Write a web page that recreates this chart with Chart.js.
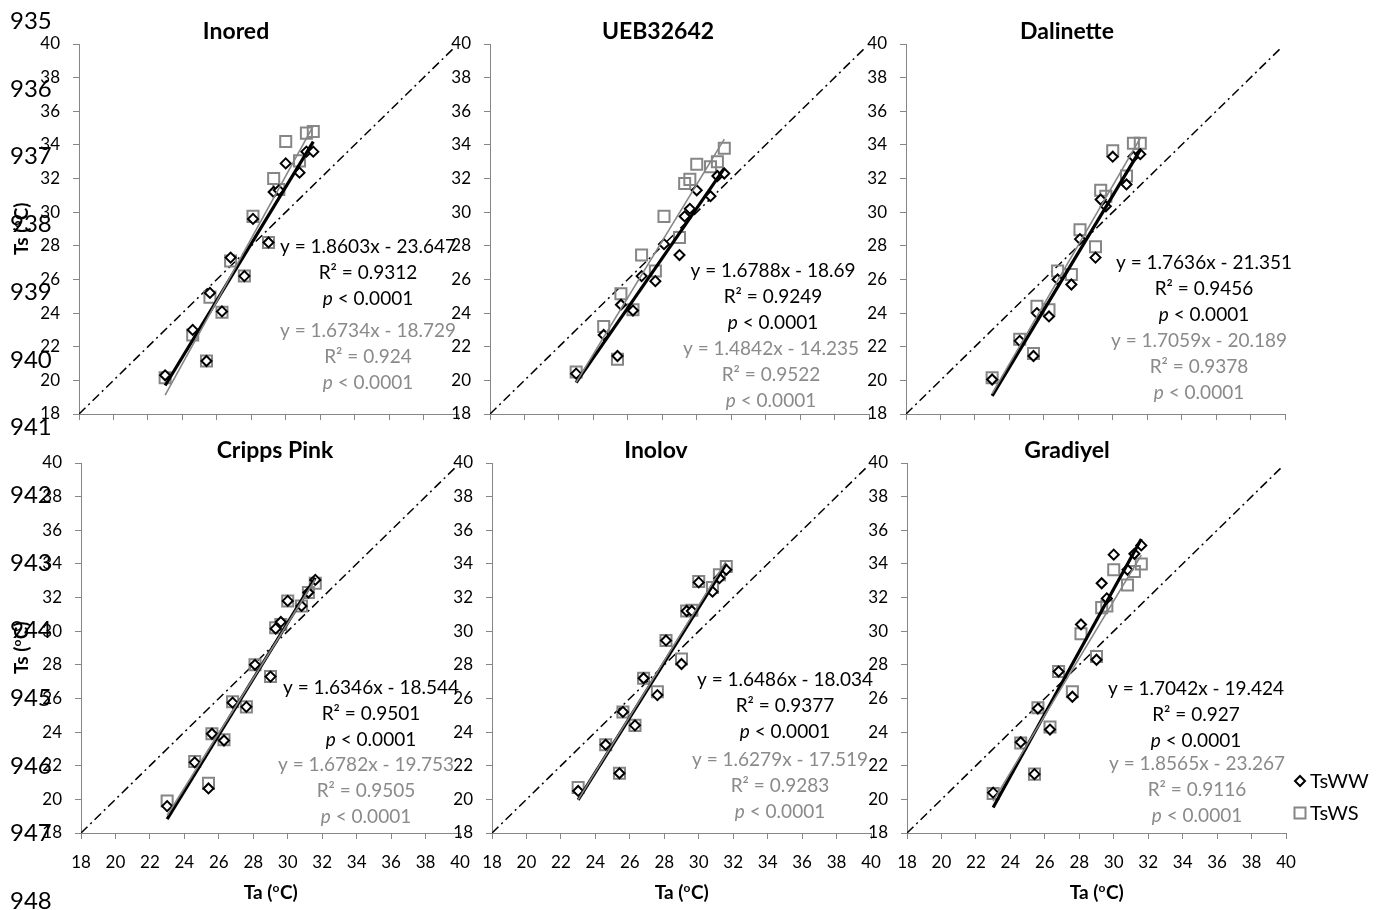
<!DOCTYPE html>
<html>
<head>
<meta charset="utf-8">
<script src="https://cdn.jsdelivr.net/npm/chart.js@4.4.0/dist/chart.umd.min.js"></script>
<style>
    body { margin: 0; background: #fff; width: 1386px; height: 910px; overflow: hidden; position: relative; font-family: Lato, sans-serif; }
    canvas { position: absolute; z-index: 1; }
    .ln { position: absolute; left: 10px; font-size: 24px; line-height: 24px; color: #000; z-index: 5; }
</style>
</head>
<body>
<script>
// Air temperature (x), shared by every panel
const ta = [23.0, 24.6, 25.4, 25.6, 26.3, 26.8, 27.6, 28.1, 29.0, 29.3, 29.6, 30.0, 30.8, 31.2, 31.6];

// Surface temperature, well watered (WW) and water stressed (WS)
const wwInored = [20.3, 23.0, 21.15, 25.2, 24.1, 27.3, 26.2, 29.6, 28.2, 31.2, 31.3, 32.9, 32.35, 33.6, 33.6];
const wsInored = [20.15, 22.7, 21.15, 24.95, 24.05, 27.1, 26.2, 29.75, 28.2, 32.0, 31.35, 34.2, 33.05, 34.7, 34.8];
const wwUEB = [20.4, 22.7, 21.45, 24.5, 24.15, 26.2, 25.9, 28.1, 27.45, 29.75, 30.2, 31.3, 30.95, 32.15, 32.3];
const wsUEB = [20.5, 23.2, 21.25, 25.15, 24.2, 27.45, 26.5, 29.75, 28.5, 31.7, 31.95, 32.85, 32.7, 33.0, 33.8];
const wwDalinette = [20.05, 22.35, 21.45, 24.0, 23.8, 26.0, 25.7, 28.4, 27.3, 30.75, 30.35, 33.3, 31.65, 33.3, 33.45];
const wsDalinette = [20.15, 22.45, 21.6, 24.4, 24.2, 26.5, 26.3, 28.95, 27.95, 31.3, 30.95, 33.65, 32.15, 34.1, 34.1];
const wwCripps = [19.6, 22.2, 20.65, 23.9, 23.5, 25.75, 25.5, 28.0, 27.3, 30.15, 30.55, 31.8, 31.5, 32.3, 33.05];
const wsCripps = [19.9, 22.25, 20.95, 23.9, 23.55, 25.8, 25.5, 28.0, 27.3, 30.2, 30.4, 31.8, 31.5, 32.3, 32.85];
const wwInolov = [20.5, 23.25, 21.55, 25.2, 24.4, 27.2, 26.2, 29.45, 28.05, 31.2, 31.2, 32.9, 32.35, 33.15, 33.65];
const wsInolov = [20.7, 23.25, 21.55, 25.2, 24.4, 27.2, 26.4, 29.45, 28.35, 31.2, 31.25, 32.95, 32.6, 33.35, 33.85];
const wwGradiyel = [20.4, 23.4, 21.5, 25.4, 24.15, 27.6, 26.1, 30.4, 28.3, 32.85, 31.95, 34.55, 33.65, 34.6, 35.1];
const wsGradiyel = [20.35, 23.35, 21.5, 25.45, 24.3, 27.6, 26.4, 29.85, 28.5, 31.4, 31.5, 33.65, 32.75, 33.55, 34.0];

const panelNames = ['Inored', 'UEB32642', 'Dalinette', 'Cripps Pink', 'Inolov', 'Gradiyel'];
const tsWW = [wwInored, wwUEB, wwDalinette, wwCripps, wwInolov, wwGradiyel];
const tsWS = [wsInored, wsUEB, wsDalinette, wsCripps, wsInolov, wsGradiyel];

// Trendline labels as printed
const eqWW = ['y = 1.8603x - 23.647', 'y = 1.6788x - 18.69', 'y = 1.7636x - 21.351', 'y = 1.6346x - 18.544', 'y = 1.6486x - 18.034', 'y = 1.7042x - 19.424'];
const r2WW = ['0.9312', '0.9249', '0.9456', '0.9501', '0.9377', '0.927'];
const eqWS = ['y = 1.6734x - 18.729', 'y = 1.4842x - 14.235', 'y = 1.7059x - 20.189', 'y = 1.6782x - 19.753', 'y = 1.6279x - 17.519', 'y = 1.8565x - 23.267'];
const r2WS = ['0.924', '0.9522', '0.9378', '0.9505', '0.9283', '0.9116'];
const pText = ' < 0.0001';

const tickValues = [18, 20, 22, 24, 26, 28, 30, 32, 34, 36, 38, 40];
const refLine = [18, 39.7];
const seriesNames = ['TsWW', 'TsWS'];

// Layout of each panel (page pixels)
const plotW = 379;
const plotH = 370;
const panels = [
    { left: 79, top: 44, cvLeft: 0, title: [236, 32], ww: [368, 247], ws: [368, 331] },
    { left: 490, top: 44, cvLeft: 430, title: [658, 32], ww: [773, 271], ws: [771, 349] },
    { left: 906, top: 44, cvLeft: 846, title: [1067, 32], ww: [1204, 263], ws: [1199, 341] },
    { left: 81, top: 463, cvLeft: 0, title: [275, 451], ww: [371, 688], ws: [366, 765] },
    { left: 492, top: 463, cvLeft: 432, title: [656, 451], ww: [785, 680], ws: [780, 760] },
    { left: 907, top: 463, cvLeft: 847, title: [1067, 451], ww: [1196, 689], ws: [1197, 764] }
];

const gray = '#868686';
const grayText = '#8a8a8a';

// Least squares fit
function fit(xs, ys) {
    const n = xs.length;
    let sx = 0, sy = 0, sxx = 0, sxy = 0;
    for (let i = 0; i < n; i++) {
        sx += xs[i]; sy += ys[i];
        sxx += xs[i] * xs[i]; sxy += xs[i] * ys[i];
    }
    const m = (n * sxy - sx * sy) / (n * sxx - sx * sx);
    return { m: m, b: (sy - m * sx) / n };
}

function trend(xs, ys) {
    const f = fit(xs, ys);
    const x0 = Math.min(...xs), x1 = Math.max(...xs);
    return [{ x: x0, y: f.m * x0 + f.b }, { x: x1, y: f.m * x1 + f.b }];
}

function drawEquation(ctx, cx, y, color, eq, r2) {
    ctx.fillStyle = color;
    ctx.textAlign = 'center';
    ctx.font = '19px Lato';
    ctx.fillText(eq, cx, y);
    ctx.fillText('R² = ' + r2, cx, y + 26);
    ctx.font = 'italic 19px Lato';
    const wp = ctx.measureText('p').width;
    ctx.font = '19px Lato';
    const wr = ctx.measureText(pText).width;
    const x0 = cx - (wp + wr) / 2;
    ctx.textAlign = 'left';
    ctx.font = 'italic 19px Lato';
    ctx.fillText('p', x0, y + 52);
    ctx.font = '19px Lato';
    ctx.fillText(pText, x0 + wp, y + 52);
}

// "Ta (oC)" with a raised small o
function drawUnitTitle(ctx, name, cx, cy) {
    ctx.fillStyle = '#000';
    ctx.textAlign = 'left';
    ctx.font = 'bold 19px Lato';
    const a = name + ' (';
    const wa = ctx.measureText(a).width;
    const wc = ctx.measureText('C)').width;
    ctx.font = 'bold 12px Lato';
    const wo = ctx.measureText('o').width;
    let x = cx - (wa + wo + wc) / 2;
    ctx.font = 'bold 19px Lato';
    ctx.fillText(a, x, cy);
    ctx.font = 'bold 12px Lato';
    ctx.fillText('o', x + wa, cy - 5);
    ctx.font = 'bold 19px Lato';
    ctx.fillText('C)', x + wa + wo + 0.5, cy);
}

function drawLegend(ctx) {
    ctx.lineWidth = 2;
    ctx.strokeStyle = '#000';
    ctx.fillStyle = '#fff';
    ctx.beginPath();
    ctx.moveTo(1300, 776); ctx.lineTo(1305, 781); ctx.lineTo(1300, 786); ctx.lineTo(1295, 781); ctx.closePath();
    ctx.fill(); ctx.stroke();
    ctx.strokeStyle = gray;
    ctx.strokeRect(1294.5, 807.5, 11, 11);
    ctx.fillStyle = '#000';
    ctx.textAlign = 'left';
    ctx.font = '20px Lato';
    ctx.fillText(seriesNames[0], 1310, 782);
    ctx.fillText(seriesNames[1], 1310, 814);
}

function textPlugin(i, cvTop) {
    const p = panels[i];
    return {
        id: 'panelText' + i,
        afterDraw(chart) {
            const ctx = chart.ctx;
            ctx.save();
            ctx.translate(-p.cvLeft, -cvTop);
            ctx.textBaseline = 'middle';
            ctx.textAlign = 'center';
            ctx.fillStyle = '#000';
            ctx.font = 'bold 23px Lato';
            ctx.fillText(panelNames[i], p.title[0], p.title[1]);
            drawEquation(ctx, p.ww[0], p.ww[1], '#000', eqWW[i], r2WW[i]);
            drawEquation(ctx, p.ws[0], p.ws[1], grayText, eqWS[i], r2WS[i]);
            if (i >= 3) drawUnitTitle(ctx, 'Ta', p.left + plotW / 2, 893);
            if (i % 3 === 0) {
                ctx.save();
                ctx.translate(22, p.top + plotH / 2);
                ctx.rotate(-Math.PI / 2);
                drawUnitTitle(ctx, 'Ts', 0, 0);
                ctx.restore();
            }
            if (i === 5) drawLegend(ctx);
            ctx.restore();
        }
    };
}

function makePanel(i) {
    const p = panels[i];
    const bottomRow = i >= 3;
    const cvTop = p.top - 44;
    const w = (i % 3 === 2) ? 1386 - p.cvLeft : p.left - p.cvLeft + plotW + 30;
    const h = bottomRow ? 910 - cvTop : 464;
    const yW = p.left - p.cvLeft;
    const xH = 36;

    const cv = document.createElement('canvas');
    cv.width = w;
    cv.height = h;
    cv.style.left = p.cvLeft + 'px';
    cv.style.top = cvTop + 'px';
    document.body.appendChild(cv);

    const pointsWW = ta.map((x, k) => ({ x: x, y: tsWW[i][k] }));
    const pointsWS = ta.map((x, k) => ({ x: x, y: tsWS[i][k] }));

    const axis = (showLabels, fitFn) => ({
        type: 'linear',
        min: tickValues[0],
        max: tickValues[tickValues.length - 1],
        afterBuildTicks: s => { s.ticks = tickValues.map(v => ({ value: v })); },
        afterFit: fitFn,
        ticks: { display: showLabels, autoSkip: false, maxRotation: 0, padding: 13, color: '#000', font: { family: 'Lato', size: 17 } },
        grid: { drawOnChartArea: false, drawTicks: true, tickLength: 6, color: gray },
        border: { display: true, color: gray, width: 1 }
    });

    new Chart(cv, {
        type: 'scatter',
        data: {
            datasets: [
                { data: trend(ta, tsWS[i]), showLine: true, borderColor: gray, borderWidth: 1.6, pointRadius: 0 },
                { data: trend(ta, tsWW[i]), showLine: true, borderColor: '#000', borderWidth: 3.2, pointRadius: 0 },
                { data: pointsWW, pointStyle: 'rectRot', pointRadius: 5, borderColor: '#000', borderWidth: 2, backgroundColor: '#fff' },
                { data: pointsWS, pointStyle: 'rect', pointRadius: 7.8, borderColor: gray, borderWidth: 2, backgroundColor: 'rgba(255,255,255,0)' },
                { data: refLine.map(v => ({ x: v, y: v })), showLine: true, borderColor: '#000', borderWidth: 1.5, borderDash: [9, 4, 2, 4], pointRadius: 0 }
            ]
        },
        options: {
            responsive: false,
            animation: false,
            devicePixelRatio: 1,
            layout: { padding: { left: 0, top: 44, right: w - yW - plotW, bottom: h - 44 - plotH - xH } },
            plugins: { legend: { display: false }, tooltip: { enabled: false } },
            scales: {
                x: axis(bottomRow, s => { s.height = xH; }),
                y: axis(true, s => { s.width = yW; })
            }
        },
        plugins: [textPlugin(i, cvTop)]
    });
}

for (let i = 0; i < panels.length; i++) makePanel(i);

// Document line numbers over the figure
for (let n = 935; n <= 948; n++) {
    const d = document.createElement('div');
    d.className = 'ln';
    d.textContent = n;
    d.style.top = (20 + (n - 935) * 67.7 - 12) + 'px';
    document.body.appendChild(d);
}
</script>
</body>
</html>
